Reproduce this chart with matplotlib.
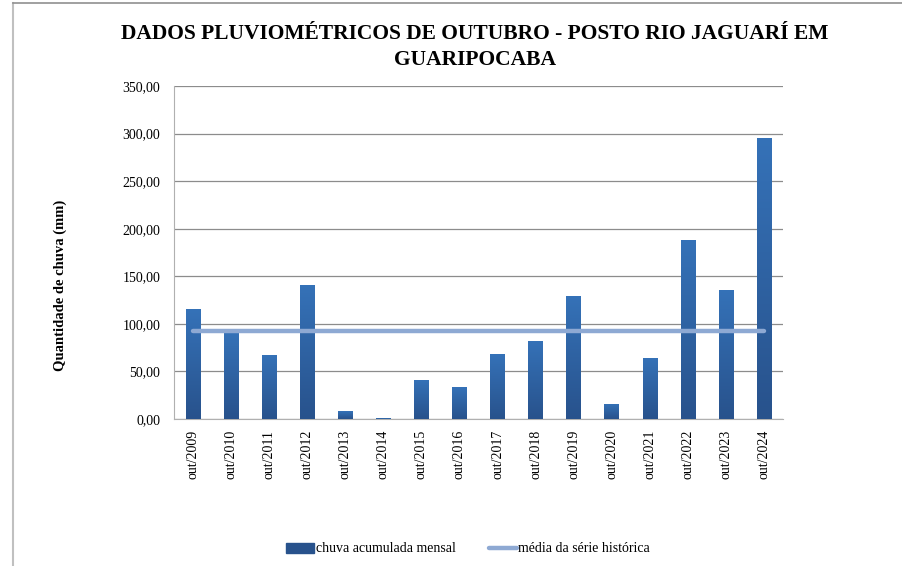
import numpy as np
import matplotlib
matplotlib.use("Agg")
import matplotlib.pyplot as plt
from matplotlib.patches import Rectangle
from matplotlib.lines import Line2D

plt.rcParams["font.family"] = ["Liberation Serif", "DejaVu Serif"]

anos = ["out/2009", "out/2010", "out/2011", "out/2012", "out/2013", "out/2014",
        "out/2015", "out/2016", "out/2017", "out/2018", "out/2019", "out/2020",
        "out/2021", "out/2022", "out/2023", "out/2024"]
chuva = [115.3, 91.0, 67.3, 140.9, 8.4, 1.0, 41.0, 33.6, 68.3, 82.0,
         129.3, 16.1, 64.5, 188.2, 135.6, 295.5]
media = 92.9

cor_topo = np.array([0x35, 0x72, 0xB8]) / 255
cor_base = np.array([0x28, 0x52, 0x8C]) / 255
cor_media = "#8EA9D3"

fig = plt.figure(figsize=(9.02, 5.66), dpi=100)
ax = fig.add_axes([174/902, 1 - 419/566, (783-174)/902, (419-86)/566])

x = np.arange(len(anos))
largura = 0.38
barras = ax.bar(x, chuva, width=largura, color=cor_base, zorder=2)

# gradiente vertical em cada barra
grad = np.linspace(0, 1, 256).reshape(-1, 1, 1)
img = cor_base * (1 - grad) + cor_topo * grad
for b in barras:
    x0, w, h = b.get_x(), b.get_width(), b.get_height()
    im = ax.imshow(img, extent=[x0, x0 + w, 0, h], origin="lower",
                   aspect="auto", zorder=3, interpolation="bilinear")
    im.set_clip_path(b)

ax.plot([x[0], x[-1]], [media, media], color=cor_media, lw=3.2,
        solid_capstyle="round", zorder=4)

ax.set_xlim(-0.5, len(anos) - 0.5)
ax.set_ylim(0, 350)
ax.set_yticks(np.arange(0, 351, 50))
ax.set_yticklabels([f"{v:.2f}".replace(".", ",") for v in np.arange(0, 351, 50)],
                   fontsize=10)
ax.set_xticks(x)
ax.set_xticklabels(anos, rotation=90, fontsize=10)
ax.tick_params(axis="y", length=0, pad=10)
ax.tick_params(axis="x", length=0, pad=8)
ax.grid(axis="y", color="#8c8c8c", lw=0.9, zorder=0)
ax.set_axisbelow(True)
for s in ["top", "right"]:
    ax.spines[s].set_visible(False)
ax.spines["left"].set_color("#b0b0b0")
ax.spines["bottom"].set_color("#b0b0b0")

ax.set_ylabel("Quantidade de chuva (mm)", fontsize=10.5, fontweight="bold")
ax.yaxis.set_label_coords((67 - 174) / 609, (419 - 285) / 333)

fig.suptitle("DADOS PLUVIOMÉTRICOS DE OUTUBRO - POSTO RIO JAGUARÍ EM\nGUARIPOCABA",
             fontsize=15.5, fontweight="bold", y=1 - 24/566, va="top",
             linespacing=1.4, x=475/902)

handles = [Rectangle((0, 0), 1, 1, color=cor_base),
           Line2D([0], [0], color=cor_media, lw=3.2, solid_capstyle="round")]
fig.legend(handles, ["chuva acumulada mensal", "média da série histórica"],
           loc="center", bbox_to_anchor=(0.519, 1 - 549/566), ncol=2,
           frameon=False, fontsize=10, handlelength=2.0, handletextpad=0.1,
           columnspacing=2.4)

# moldura da figura
fig.add_artist(Line2D([13/902, 13/902], [0, 1 - 3/566], color="#c0c0c0", lw=1.5))
fig.add_artist(Line2D([13/902, 1], [1 - 3/566, 1 - 3/566], color="#909090", lw=1.2))

fig.savefig("out.png", dpi=100)
